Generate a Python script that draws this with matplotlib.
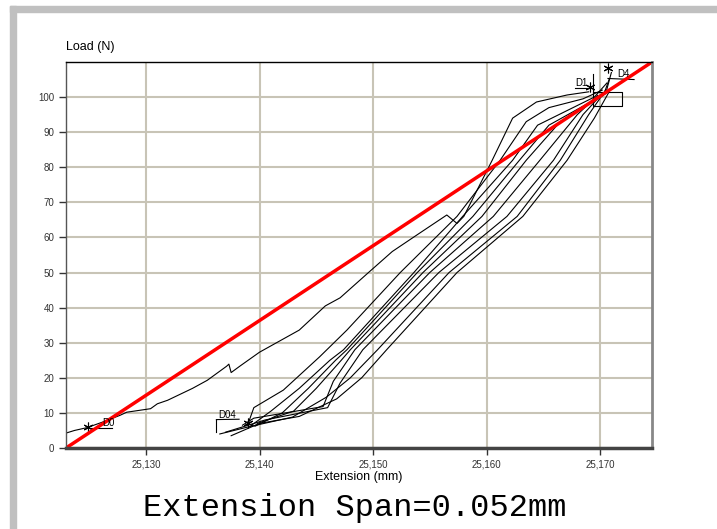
import matplotlib.pyplot as plt
from matplotlib.ticker import FuncFormatter
from matplotlib.patches import Rectangle

# Data (extension in mm x 1000, load in N)
first_x = [25122.9, 25123.7, 25124.8, 25126.1, 25127.7, 25128.3, 25130.4, 25131.0, 25131.9,
           25134.1, 25135.4, 25137.1, 25137.3, 25137.5, 25138.3, 25140.0, 25143.5, 25145.8,
           25147.1, 25149.6, 25151.7, 25154.0, 25156.5, 25157.4, 25158.0, 25160.5, 25162.3,
           25164.4, 25167.1, 25169.0]
first_y = [4.2, 5.0, 5.8, 7.3, 9.3, 10.2, 11.2, 12.6, 13.6,
           17.0, 19.3, 23.3, 23.9, 21.5, 23.4, 27.3, 33.6, 40.5,
           42.8, 50.0, 56.0, 61.0, 66.4, 64.0, 66.0, 82.0, 94.0,
           98.6, 100.6, 101.5]

load_x = [
    [25139.0, 25139.5, 25142.1, 25145.3, 25147.7, 25152.4, 25157.4, 25161.2, 25163.5, 25165.5, 25168.5, 25170.2],
    [25139.3, 25141.0, 25143.5, 25146.2, 25147.4, 25153.6, 25157.9, 25162.3, 25164.5, 25167.0, 25169.5, 25170.6],
    [25139.6, 25142.0, 25144.3, 25146.7, 25147.7, 25153.9, 25158.8, 25162.9, 25165.5, 25168.0, 25170.5, 25171.0],
    [25139.8, 25143.0, 25145.0, 25147.2, 25148.0, 25154.4, 25159.6, 25163.5, 25166.5, 25168.5, 25170.3, 25170.8],
]
load_y = [
    [7.0, 11.5, 16.5, 26.0, 33.6, 50.0, 66.0, 82.0, 93.0, 97.0, 99.5, 102.0],
    [6.5, 10.5, 17.0, 25.0, 28.0, 50.0, 66.0, 82.0, 92.0, 96.0, 100.0, 104.0],
    [6.2, 10.0, 17.0, 25.0, 28.0, 50.0, 66.0, 82.0, 92.0, 96.5, 101.0, 107.0],
    [7.0, 10.5, 17.0, 25.0, 28.0, 50.0, 66.0, 82.0, 93.0, 97.0, 100.5, 105.0],
]
unload_x = [
    [25169.8, 25168.0, 25164.7, 25160.6, 25155.0, 25148.4, 25146.5, 25145.6, 25139.5, 25138.5],
    [25170.2, 25168.5, 25165.9, 25161.8, 25155.8, 25149.1, 25147.1, 25146.0, 25140.5, 25137.0],
    [25170.5, 25169.0, 25166.5, 25162.7, 25156.7, 25150.4, 25148.0, 25145.9, 25142.9, 25139.0, 25136.5],
    [25170.8, 25169.5, 25167.1, 25163.2, 25157.4, 25151.2, 25149.0, 25146.8, 25143.5, 25140.0, 25137.5],
]
unload_y = [
    [100.5, 95.0, 82.0, 66.0, 50.0, 28.0, 19.0, 11.8, 8.5, 6.5],
    [101.0, 95.0, 82.0, 66.0, 50.0, 28.0, 18.5, 11.5, 8.0, 4.5],
    [102.0, 95.0, 82.0, 66.0, 50.0, 28.0, 20.0, 14.5, 8.8, 6.0, 4.0],
    [101.5, 94.0, 82.0, 66.0, 50.0, 28.0, 20.0, 14.0, 9.0, 7.0, 3.5],
]

marker_names = ["D0", "D04", "D1", "D4"]
marker_x = [25124.9, 25139.0, 25169.1, 25170.7]
marker_y = [6.0, 7.1, 102.8, 108.3]

x_min, x_max = 25122.95, 25174.58
y_min, y_max = 0, 110
x_ticks = [25130, 25140, 25150, 25160, 25170]
y_ticks = list(range(0, 101, 10))

fig = plt.figure(figsize=(7.17, 5.29), dpi=100)
plt.rcParams['font.family'] = ['Liberation Sans', 'DejaVu Sans']

# grey frame
fig.patches.append(Rectangle((10 / 717, 1 - 12 / 529), 1, 6 / 529, transform=fig.transFigure,
                             color='#c0c0c0', zorder=0))
fig.patches.append(Rectangle((10 / 717, 0), 6 / 717, 1 - 6 / 529, transform=fig.transFigure,
                             color='#c0c0c0', zorder=0))

ax = fig.add_axes([66 / 717, 81 / 529, 586 / 717, 386 / 529])
ax.set_xlim(x_min, x_max)
ax.set_ylim(y_min, y_max)
ax.set_xticks(x_ticks)
ax.set_yticks(y_ticks)
ax.xaxis.set_major_formatter(FuncFormatter(lambda v, p: f'{v:,.0f}'))
ax.tick_params(labelsize=7, length=5, width=1, colors='#333333', labelcolor='#333333')
ax.grid(color='#c8c4b6', linewidth=1.5)
ax.set_axisbelow(True)

ax.spines['bottom'].set_color('#444444')
ax.spines['bottom'].set_linewidth(2.5)
ax.spines['right'].set_color('#888888')
ax.spines['right'].set_linewidth(2)
ax.spines['top'].set_linewidth(1)
ax.spines['left'].set_linewidth(1)
ax.spines['left'].set_color('#555555')

ax.plot(first_x, first_y, color='black', lw=0.8)
for xs, ys in zip(load_x, load_y):
    ax.plot(xs, ys, color='black', lw=0.8)
for xs, ys in zip(unload_x, unload_y):
    ax.plot(xs, ys, color='black', lw=0.8)

# markers and labels
ax.plot(marker_x, marker_y, ls='none', marker=(6, 2, 0), ms=7, color='black', mew=0.8)
ax.plot([25124.9, 25127.0], [5.6, 5.6], color='black', lw=0.8)
ax.text(25126.1, 6.2, marker_names[0], fontsize=7)
ax.plot([25136.2, 25138.2], [8.1, 8.2], color='black', lw=0.8)
ax.plot([25136.2, 25136.2], [8.1, 4.5], color='black', lw=0.8)
ax.text(25136.4, 8.6, marker_names[1], fontsize=7)
ax.plot([25167.8, 25169.4], [102.6, 102.6], color='black', lw=0.8)
ax.plot([25169.4, 25169.4, 25171.9, 25171.9, 25169.4],
        [106.5, 97.5, 97.5, 101.5, 101.5], color='black', lw=0.8)
ax.text(25167.8, 103.3, marker_names[2], fontsize=7)
ax.plot([25170.7, 25173.0], [105.3, 105.0], color='black', lw=0.8)
ax.text(25171.5, 105.7, marker_names[3], fontsize=7)

# fit line
ax.plot([x_min, x_max], [y_min, y_max], color='red', lw=2.5)

ax.set_xlabel('Extension (mm)', fontsize=9, labelpad=1)
fig.text(66 / 717, 1 - 47 / 529, 'Load (N)', fontsize=9, va='center')
fig.text(355 / 717, 1 - 508 / 529, 'Extension Span=0.052mm', fontsize=23,
         family='Liberation Mono', ha='center', va='center')

fig.savefig('out.png', dpi=100)
